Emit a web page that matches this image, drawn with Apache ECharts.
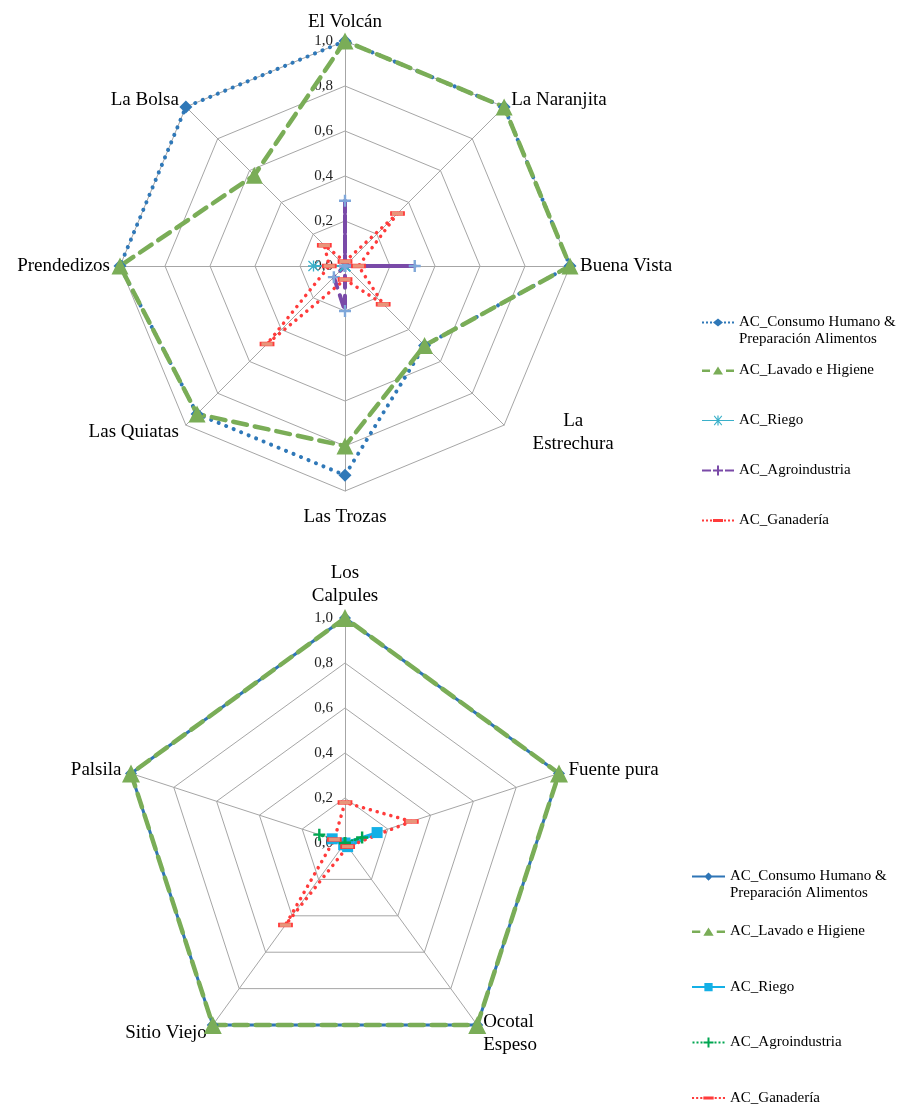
<!DOCTYPE html>
<html>
<head>
<meta charset="utf-8">
<script src="https://cdn.jsdelivr.net/npm/echarts@6/dist/echarts.min.js"></script>
<style>
  html, body { margin: 0; padding: 0; background: #fff; }
  #chart { width: 904px; height: 1105px; }
</style>
</head>
<body>
<div id="chart"></div>
<script>
// categories listed clockwise from the top, as in the picture
var topSites = ['El Volcán', 'La Naranjita', 'Buena Vista', 'La\nEstrechura', 'Las Trozas', 'Las Quiatas', 'Prendedizos', 'La Bolsa'];
var bottomSites = ['Los\nCalpules', 'Fuente pura', 'Ocotal\nEspeso', 'Sitio Viejo', 'Palsila'];

var seriesNames = ['AC_Consumo Humano & Preparación Alimentos', 'AC_Lavado e Higiene', 'AC_Riego', 'AC_Agroindustria', 'AC_Ganadería'];
var tickValues = [0, 0.2, 0.4, 0.6, 0.8, 1.0];

// top chart values
var topConsumo = [1.0, 1.0, 1.0, 0.5, 0.93, 0.93, 1.0, 1.0];
var topLavado = [1.0, 1.0, 1.0, 0.5, 0.8, 0.93, 1.0, 0.57];
var topRiego = [0, 0, 0, 0, 0, 0, 0.14, 0];
var topAgro = [0.29, 0, 0.31, 0, 0.2, 0.07, 0, 0];
var topGanaderia = [0.02, 0.33, 0.06, 0.24, 0.06, 0.49, 0.07, 0.13];

// bottom chart values
var botConsumo = [1, 1, 1, 1, 1];
var botLavado = [1, 1, 1, 1, 1];
var botRiego = [0, 0.15, 0.02, 0.01, 0.06];
var botAgro = [0, 0.08, 0, 0, 0.12];
var botGanaderia = [0.18, 0.31, 0.02, 0.45, 0.05];

// echarts lays radar axes out counter-clockwise, so flip the order (keep the first one on top)
function ccw(arr) {
  return [arr[0]].concat(arr.slice(1).reverse());
}

var serif = 'Liberation Serif';
var gridColor = '#a6a6a6';

var starPath = 'path://M4.4,0h1.2v10h-1.2z M0,4.4h10v1.2h-10z M0.8,0L10,9.2L9.2,10L0,0.8z M9.2,0L10,0.8L0.8,10L0,9.2z';
var plusPath = 'path://M4,0h2v4h4v2h-4v4h-2v-4h-4v-2h4z';

// legend icons: line with the marker in the middle
var icDotDiamond = 'path://M0,4h2v2h-2z M4,4h2v2h-2z M8,4h2v2h-2z M11,5L16,1L21,5L16,9z M22,4h2v2h-2z M26,4h2v2h-2z M30,4h2v2h-2z';
var icDashTri = 'path://M0,4h8v2.4h-8z M11,9L16,1L21,9z M24,4h8v2.4h-8z';
var icSolidStar = 'path://M0,4.4h32v1.2h-32z M15.4,0h1.2v10h-1.2z M11.8,0.8L12.6,0L20.2,9.2L19.4,10z M19.4,0L20.2,0.8L12.6,10L11.8,9.2z';
var icDashPlus = 'path://M0,4h9v2h-9z M15,0h2v4h4v2h-4v4h-2v-4h-4v-2h4z M23,4h9v2h-9z';
var icDotDash = 'path://M0,4h2v2h-2z M4,4h2v2h-2z M8,4h2v2h-2z M11,3.5h10v3h-10z M22,4h2v2h-2z M26,4h2v2h-2z M30,4h2v2h-2z';
var icSolidDiamond = 'path://M0,4h32v2h-32z M12,5L16,1L20,5L16,9z';
var icSolidSquare = 'path://M0,4h32v2h-32z M12,1h8v8h-8z';
var icDotPlus = 'path://M0,4h2v2h-2z M4,4h2v2h-2z M8,4h2v2h-2z M11,4h4v-4h2v4h4v2h-4v4h-2v-4h-4z M22,4h2v2h-2z M26,4h2v2h-2z M30,4h2v2h-2z';

function indicators(sites) {
  var list = ccw(sites).map(function (s) {
    var ind = { name: s, min: 0, max: 1 };
    if (s === 'La\nEstrechura') {
      ind.nameTextStyle = { align: 'center', padding: [0, 0, 0, 124] };
    }
    if (s === 'Las Trozas') ind.nameGap = 15;
    if (s === 'El Volcán') ind.nameGap = 7;
    return ind;
  });
  list[0].axisLabel = {
    show: true,
    fontFamily: serif,
    fontSize: 15,
    color: '#222',
    margin: 12,
    formatter: function (v) { return v.toFixed(1).replace('.', ','); }
  };
  return list;
}

function radarBox(center, sites) {
  return {
    center: center,
    radius: 225,
    startAngle: 90,
    splitNumber: tickValues.length - 1,
    shape: 'polygon',
    indicator: indicators(sites),
    nameGap: 10,
    axisName: { color: '#000', fontFamily: serif, fontSize: 19, lineHeight: 23 },
    splitLine: { lineStyle: { color: gridColor, width: 1 } },
    splitArea: { show: false },
    axisLine: { lineStyle: { color: gridColor, width: 1 } },
    axisTick: { show: false },
    axisLabel: { show: false }
  };
}

function item(name, values, symbol, size, markColor, lineColor, lineType, width, border) {
  return {
    name: name,
    value: ccw(values),
    symbol: symbol,
    symbolSize: size,
    itemStyle: { color: markColor, borderColor: border || markColor, borderWidth: border ? 1 : 0 },
    lineStyle: { color: lineColor, type: lineType, width: width, cap: 'round' }
  };
}

var dotted = [0.1, 8];
var dashed = [14, 8];

var legendText = { fontFamily: serif, fontSize: 15, color: '#000' };

function legendItems(icons, colors, lh) {
  return seriesNames.map(function (n, i) {
    var ts = i === 0
      ? { fontFamily: serif, fontSize: 15, color: '#000', lineHeight: 17 }
      : { fontFamily: serif, fontSize: 15, color: '#000', lineHeight: lh };
    return { name: n, icon: icons[i], itemStyle: { color: colors[i], borderWidth: 0 }, textStyle: ts };
  });
}

// the two-line entry gets an empty first line so its first line sits beside the icon
function legendLabel(n) {
  return n.indexOf('& ') >= 0 ? '\n' + n.replace('& ', '&\n') : n;
}

var chart = echarts.init(document.getElementById('chart'), null, { renderer: 'canvas' });

chart.setOption({
  backgroundColor: '#fff',
  animation: false,
  radar: [
    radarBox([345, 266], topSites),
    radarBox([345, 843], bottomSites)
  ],
  legend: [
    {
      orient: 'vertical',
      left: 697,
      top: 292,
      height: 320,
      itemWidth: 32,
      itemHeight: 10,
      itemGap: -5,
      selectedMode: false,
      textStyle: legendText,
      formatter: legendLabel,
      data: legendItems(
        [icDotDiamond, icDashTri, icSolidStar, icDashPlus, icDotDash],
        ['#2f78b8', '#7aad57', '#3bb0c9', '#7a4aa8', '#ff3b3b'], 55)
    },
    {
      orient: 'vertical',
      left: 687,
      top: 846,
      height: 320,
      itemWidth: 33,
      itemHeight: 10,
      itemGap: 3.5,
      selectedMode: false,
      textStyle: legendText,
      formatter: legendLabel,
      data: legendItems(
        [icSolidDiamond, icDashTri, icSolidSquare, icDotPlus, icDotDash],
        ['#2e75b6', '#7aad57', '#14b0e6', '#00a651', '#ff3b3b'], 52)
    }
  ],
  series: [
    {
      type: 'radar',
      radarIndex: 0,
      data: [
        item(seriesNames[0], topConsumo, 'diamond', 13, '#2f78b8', '#2f78b8', dotted, 4),
        item(seriesNames[1], topLavado, 'triangle', 17, '#7aad57', '#7aad57', dashed, 4.5),
        item(seriesNames[2], topRiego, starPath, 11, '#3bb0c9', '#3bb0c9', 'solid', 2),
        item(seriesNames[3], topAgro, plusPath, 12, '#7fa7d9', '#7a4aa8', [12, 8], 4),
        item(seriesNames[4], topGanaderia, 'rect', [13, 4], '#e8957a', '#ff3b3b', [0.1, 7], 3.5, '#ff3b3b')
      ]
    },
    {
      type: 'radar',
      radarIndex: 1,
      data: [
        item(seriesNames[0], botConsumo, 'diamond', 12, '#2e75b6', '#2e75b6', 'solid', 3),
        item(seriesNames[1], botLavado, 'triangle', 18, '#7aad57', '#7aad57', dashed, 4.5),
        item(seriesNames[2], botRiego, 'rect', 11, '#14b0e6', '#14b0e6', 'solid', 3),
        item(seriesNames[3], botAgro, plusPath, 12, '#00a651', '#00a651', [0.1, 6], 3),
        item(seriesNames[4], botGanaderia, 'rect', [13, 4], '#e8957a', '#ff3b3b', [0.1, 7], 3.5, '#ff3b3b')
      ]
    }
  ]
});
</script>
</body>
</html>
